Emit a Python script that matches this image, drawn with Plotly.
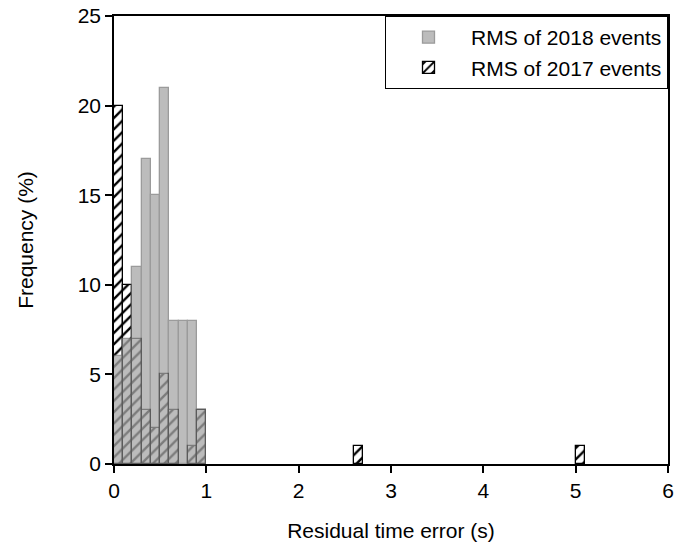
import plotly.graph_objects as go

# Bin centres (bin width 0.1 s)
bins_2018 = [0.05, 0.15, 0.25, 0.35, 0.45, 0.55, 0.65, 0.75, 0.85, 0.95]
freq_2018 = [6, 7, 11, 17, 15, 21, 8, 8, 8, 3]

bins_2017 = [0.05, 0.15, 0.25, 0.35, 0.45, 0.55, 0.65, 0.85, 0.95, 2.65, 5.05]
freq_2017 = [20, 10, 7, 3, 2, 5, 3, 1, 3, 1, 1]

bin_width = 0.1
x_ticks = [0, 1, 2, 3, 4, 5, 6]
y_ticks = [0, 5, 10, 15, 20, 25]

fig = go.Figure()

fig.add_trace(go.Bar(
    x=bins_2017, y=freq_2017, width=bin_width,
    name="RMS of 2017 events", legendrank=2,
    marker=dict(color="white",
                line=dict(color="black", width=1.3),
                pattern=dict(shape="/", fgcolor="black", bgcolor="white",
                             size=8, solidity=0.3, fillmode="replace")),
))
fig.add_trace(go.Bar(
    x=bins_2018, y=freq_2018, width=bin_width,
    name="RMS of 2018 events", legendrank=1,
    opacity=0.75,
    marker=dict(color="#a6a6a6", line=dict(color="#7a7a7a", width=1.3)),
))

font = dict(family="Liberation Sans, Arial, sans-serif", color="black")

fig.update_layout(
    width=689, height=550,
    margin=dict(l=114, r=21, t=16, b=86),
    barmode="overlay", bargap=0,
    plot_bgcolor="white", paper_bgcolor="white",
    font=dict(size=21, **font),
    showlegend=True,
    legend=dict(x=1, y=1, xanchor="right", yanchor="top",
                bordercolor="black", borderwidth=1, bgcolor="white",
                font=dict(size=21, **font), itemwidth=75,
                tracegroupgap=0),
)
fig.update_xaxes(
    range=[0, 6], tickvals=x_ticks, ticks="outside", ticklen=7,
    tickwidth=1.5, tickcolor="black",
    showline=True, linecolor="black", linewidth=1.5, mirror=True,
    showgrid=False, zeroline=False, automargin=False,
    title=dict(text="Residual time error (s)", font=dict(size=21), standoff=22),
    tickfont=dict(size=21),
)
fig.update_yaxes(
    range=[0, 25], tickvals=y_ticks, ticks="outside", ticklen=7,
    tickwidth=1.5, tickcolor="black",
    showline=True, linecolor="black", linewidth=1.5, mirror=True,
    showgrid=False, zeroline=False, automargin=False,
    title=dict(text="Frequency (%)", font=dict(size=21), standoff=38),
    tickfont=dict(size=21),
)

fig.write_html("out.html")
